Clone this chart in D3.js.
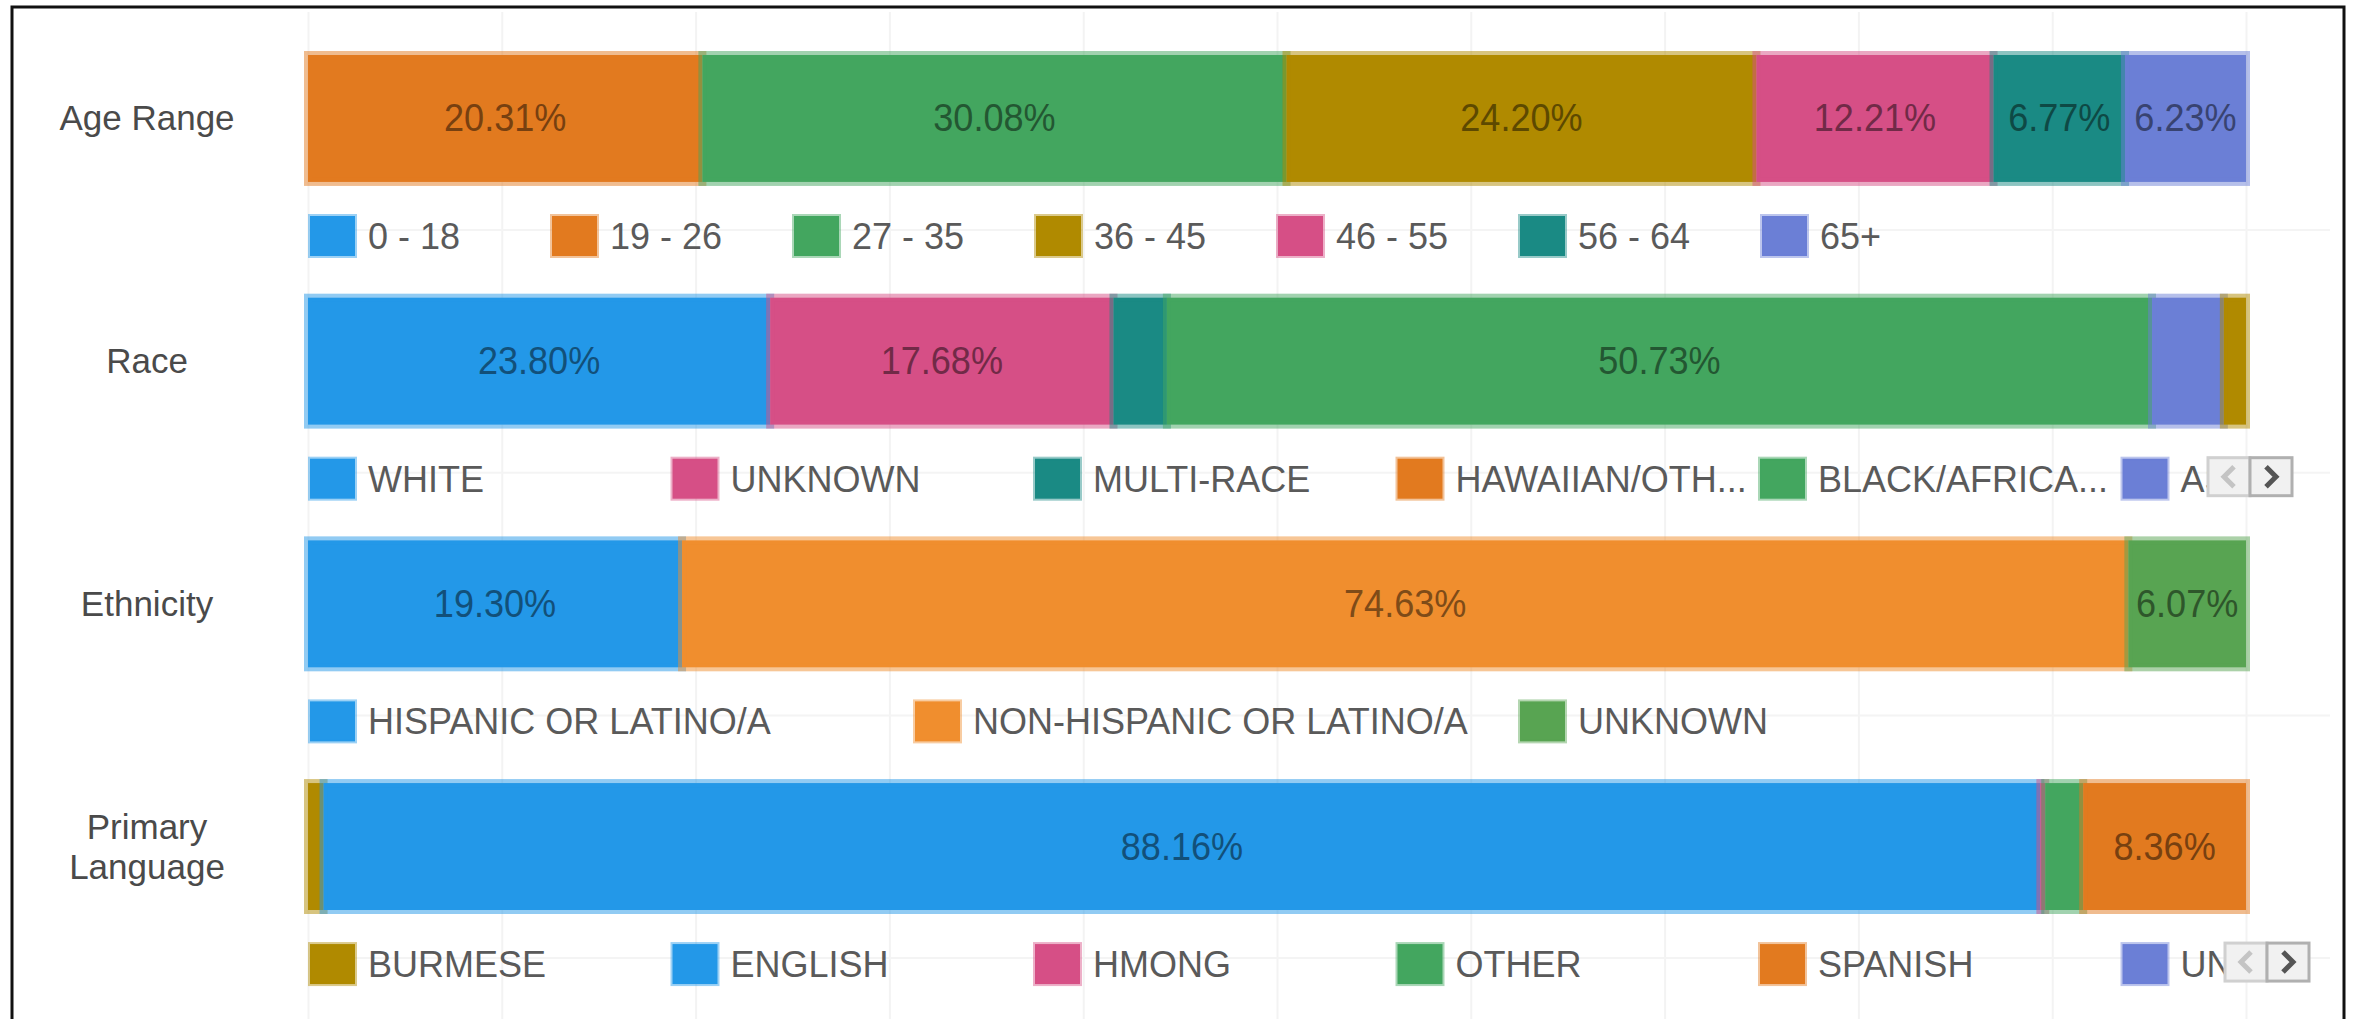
<!DOCTYPE html>
<html>
<head>
<meta charset="utf-8">
<script src="https://cdn.jsdelivr.net/npm/d3@7"></script>
<style>
  html, body { margin: 0; padding: 0; background: #fff; }
  svg { display: block; }
  svg text { font-family: 'Liberation Sans', Arial, Helvetica, sans-serif; }
</style>
</head>
<body>
<svg id="chart" width="2354" height="1019"></svg>
<script>
// row labels (y axis)
const rowLabels = ['Age Range', 'Race', 'Ethnicity', 'Primary Language'];

// Age Range
const ageCats = ['0 - 18', '19 - 26', '27 - 35', '36 - 45', '46 - 55', '56 - 64', '65+'];
const ageVals = [0, 20.31, 30.08, 24.20, 12.21, 6.77, 6.23];
const ageColors = ['#2398e8', '#e27a1f', '#43a65f', '#b08a00', '#d64f86', '#1a8a84', '#6b7fd6'];

// Race
const raceCats = ['WHITE', 'UNKNOWN', 'MULTI-RACE', 'HAWAIIAN/OTHER PACIFIC ISLANDER',
                  'BLACK/AFRICAN AMERICAN', 'ASIAN', 'AMERICAN INDIAN/ALASKA NATIVE'];
const raceVals = [23.80, 17.68, 2.75, 0, 50.73, 3.70, 1.14];
const raceColors = ['#2398e8', '#d64f86', '#1a8a84', '#e27a1f', '#43a65f', '#6b7fd6', '#b08a00'];

// Ethnicity
const ethCats = ['HISPANIC OR LATINO/A', 'NON-HISPANIC OR LATINO/A', 'UNKNOWN'];
const ethVals = [19.30, 74.63, 6.07];
const ethColors = ['#2398e8', '#f08e2e', '#58a452'];

// Primary Language
const langCats = ['BURMESE', 'ENGLISH', 'HMONG', 'OTHER', 'SPANISH', 'UNKNOWN'];
const langVals = [0.80, 88.16, 0.25, 1.95, 8.36, 0];
const langColors = ['#b08a00', '#2398e8', '#d64f86', '#43a65f', '#e27a1f', '#6b7fd6'];

const groups = [
  {label: rowLabels[0], cats: ageCats, vals: ageVals, colors: ageColors, col: 242, maxW: Infinity, nav: null},
  {label: rowLabels[1], cats: raceCats, vals: raceVals, colors: raceColors, col: 362.5, maxW: 296, nav: 2208},
  {label: rowLabels[2], cats: ethCats, vals: ethVals, colors: ethColors, col: 605, maxW: Infinity, nav: null},
  {label: rowLabels[3], cats: langCats, vals: langVals, colors: langColors, col: 362.5, maxW: 296, nav: 2225}
];

const svg = d3.select('#chart');
const width = +svg.attr('width'), height = +svg.attr('height');

const x = d3.scaleLinear().domain([0, 1]).range([308, 2246]);
const y = d3.scaleBand()
            .domain(rowLabels)
            .range([55, 910])
            .paddingInner(0.477)
            .paddingOuter(0);

// faint vertical gridlines every 10%
svg.append('g')
    .attr('transform', 'translate(0,' + height + ')')
    .call(d3.axisBottom(x).ticks(10).tickSize(-(height - 12)).tickFormat(''))
    .call(g => g.select('.domain').remove())
    .selectAll('line')
      .attr('stroke', '#f3f3f3')
      .attr('stroke-width', 2);

// frame
svg.append('path')
    .attr('d', 'M12,' + height + 'V7H2344V' + height)
    .attr('fill', 'none')
    .attr('stroke', '#111')
    .attr('stroke-width', 3);

// y axis labels
const yAxis = svg.append('g').attr('class', 'y-axis');
rowLabels.forEach((lbl) => {
  const words = lbl === 'Primary Language' ? ['Primary', 'Language'] : [lbl];
  const cy = y(lbl) + y.bandwidth() / 2;
  const t = yAxis.append('text')
      .attr('x', 147)
      .attr('text-anchor', 'middle')
      .attr('fill', '#4a4a4a')
      .attr('font-size', 35);
  words.forEach((w, i) => {
    t.append('tspan')
      .attr('x', 147)
      .attr('y', cy + 12 + (i - (words.length - 1) / 2) * 40)
      .text(w);
  });
});

const legendOffset = 181;

groups.forEach((grp, gi) => {
  const row = {};
  grp.cats.forEach((c, i) => { row[c] = grp.vals[i]; });
  const series = d3.stack().keys(grp.cats).offset(d3.stackOffsetExpand)([row]);
  const color = d3.scaleOrdinal().domain(grp.cats).range(grp.colors);

  const g = svg.append('g').attr('class', 'bar-row');
  const y0 = y(grp.label), bh = y.bandwidth();

  g.selectAll('rect')
    .data(series.filter(s => s[0][1] - s[0][0] > 0))
    .join('rect')
      .attr('x', s => x(s[0][0]))
      .attr('y', y0)
      .attr('width', s => x(s[0][1]) - x(s[0][0]))
      .attr('height', bh)
      .attr('fill', s => color(s.key))
      .attr('stroke', s => color(s.key))
      .attr('stroke-opacity', 0.5)
      .attr('stroke-width', 8);

  // value labels, only when they fit (narrowed like the original)
  g.selectAll('text.val')
    .data(series.filter(s => x(s[0][1]) - x(s[0][0]) > 100))
    .join('text')
      .attr('class', 'val')
      .attr('transform', s => 'translate(' + (x(s[0][0]) + x(s[0][1])) / 2 + ',' + (y0 + bh / 2 + 13) + ') scale(0.95,1)')
      .attr('text-anchor', 'middle')
      .attr('font-size', 38)
      .attr('fill', s => d3.color(color(s.key)).darker(1.8))
      .text(s => d3.format('.2f')(grp.vals[grp.cats.indexOf(s.key)]) + '%');

  // legend
  const ly = y0 + legendOffset;
  const leg = svg.append('g').attr('class', 'legend');

  leg.append('line')
      .attr('x1', 308).attr('x2', 2330)
      .attr('y1', ly - 6).attr('y2', ly - 6)
      .attr('stroke', '#f4f4f4')
      .attr('stroke-width', 2);

  const clipId = 'clip' + gi;
  if (grp.nav) {
    svg.append('clipPath').attr('id', clipId)
      .append('rect').attr('x', 290).attr('y', ly - 40).attr('width', grp.nav - 290).attr('height', 80);
  }
  const items = leg.append('g').attr('clip-path', grp.nav ? 'url(#' + clipId + ')' : null);

  grp.cats.forEach((c, i) => {
    const lx = 310 + i * grp.col;
    items.append('rect')
        .attr('x', lx).attr('y', ly - 20)
        .attr('width', 45).attr('height', 40)
        .attr('fill', color(c))
        .attr('stroke', color(c))
        .attr('stroke-opacity', 0.45)
        .attr('stroke-width', 4);
    const t = items.append('text')
        .attr('x', lx + 58).attr('y', ly + 13)
        .attr('fill', '#5a5a5a')
        .attr('font-size', 36)
        .text(c);
    // truncate long names like the original legend
    if (t.node().getComputedTextLength() > grp.maxW) {
      let s = c;
      while (s.length > 1) {
        s = s.slice(0, -1);
        t.text(s + '...');
        if (t.node().getComputedTextLength() <= grp.maxW) break;
      }
    }
  });

  // paging buttons
  if (grp.nav) {
    const bw = 42, bh2 = 38, by = ly - 21;
    [0, 1].forEach((k) => {
      const bx = grp.nav + k * bw;
      leg.append('rect')
          .attr('x', bx).attr('y', by)
          .attr('width', bw).attr('height', bh2)
          .attr('fill', '#f1f1f1')
          .attr('stroke', k ? '#b0b0b0' : '#d0d0d0')
          .attr('stroke-width', 3);
      const cx = bx + bw / 2, cy = by + bh2 / 2;
      const d = k ? `M${cx - 5},${cy - 10}L${cx + 5},${cy}L${cx - 5},${cy + 10}`
                  : `M${cx + 5},${cy - 10}L${cx - 5},${cy}L${cx + 5},${cy + 10}`;
      leg.append('path')
          .attr('d', d)
          .attr('fill', 'none')
          .attr('stroke', k ? '#555' : '#c4c4c4')
          .attr('stroke-width', 5);
    });
  }
});
</script>
</body>
</html>
